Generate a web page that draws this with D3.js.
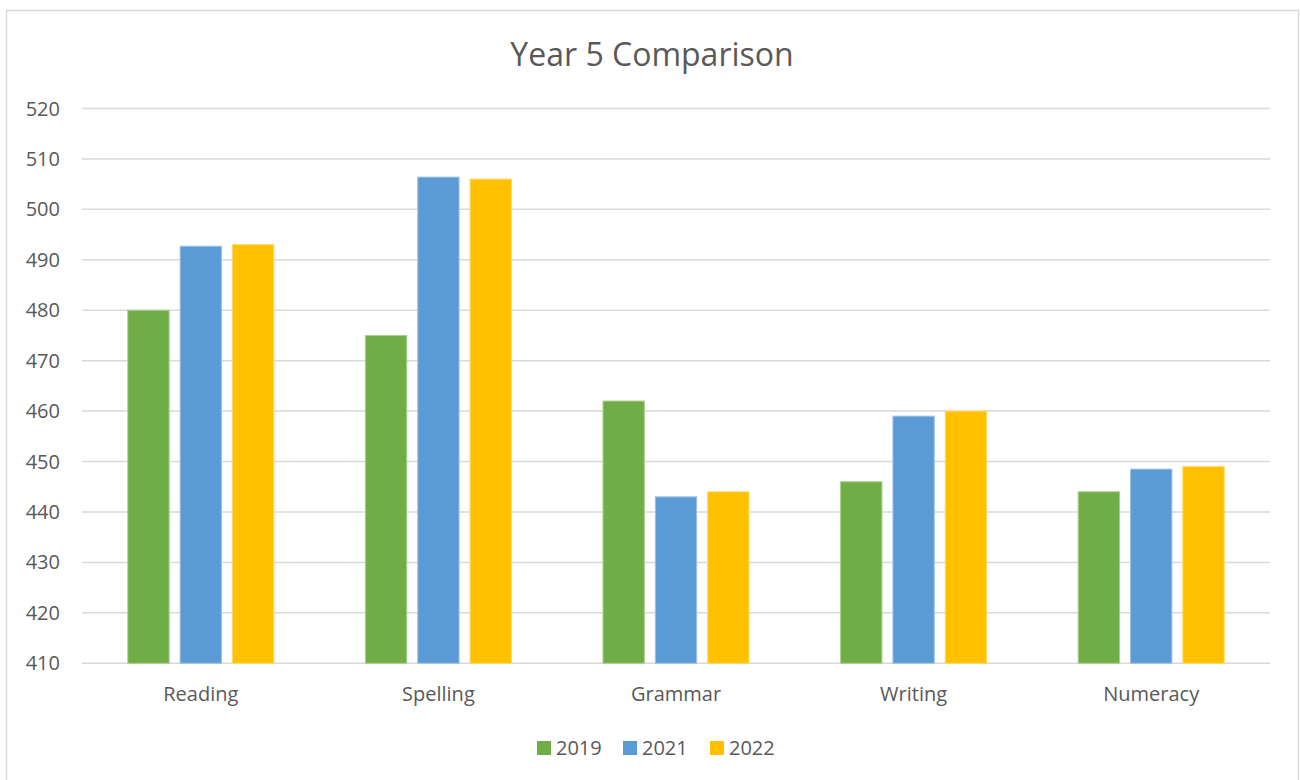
<!DOCTYPE html>
<html><head><meta charset="utf-8">
<script src="https://cdn.jsdelivr.net/npm/d3@7"></script>
<style>body{margin:0;background:#fff}svg{display:block}</style>
</head><body><svg id="c" width="1300" height="780"></svg>
<script>
const categories = ["Reading","Spelling","Grammar","Writing","Numeracy"];
const seriesNames = ["2019","2021","2022"];
const values2019 = [480, 475, 462, 446, 444];
const values2021 = [492.7, 506.4, 443, 459, 448.5];
const values2022 = [493, 506, 444, 460, 449];
const yTicks = [410,420,430,440,450,460,470,480,490,500,510,520];
const colors = ["#70AD47","#5B9BD5","#FFC000"];
const strokes = ["#A9D08E","#9DC3E6","#FFD966"];
const allValues = [values2019, values2021, values2022];

const svg = d3.select("#c");
const font = "'Open Sans', 'Liberation Sans', sans-serif";
svg.append("rect").attr("x",6.5).attr("y",10.5).attr("width",1292).attr("height",790)
  .attr("fill","#fff").attr("stroke","#d9d9d9").attr("stroke-width",1.5);

const pLeft=82, pRight=1270, pTop=108.5, pBottom=663.3;
const y = d3.scaleLinear().domain([410,520]).range([pBottom, pTop]);
const x0 = d3.scaleBand().domain(categories).range([pLeft,pRight]).paddingInner(0).paddingOuter(0);
const x1 = d3.scaleBand().domain(seriesNames).range([0, 146]).paddingInner(0.21).paddingOuter(0);

svg.append("text").attr("x",652).attr("y",66).attr("text-anchor","middle")
  .attr("font-family",font).attr("font-size",32).attr("fill","#595959").text("Year 5 Comparison");

const gy = svg.append("g");
gy.selectAll("line").data(yTicks).join("line")
  .attr("x1",pLeft).attr("x2",pRight).attr("y1",d=>y(d)).attr("y2",d=>y(d))
  .attr("stroke","#d9d9d9").attr("stroke-width",1.5);
gy.selectAll("text").data(yTicks).join("text")
  .attr("x",60).attr("y",d=>y(d)+7).attr("text-anchor","end")
  .attr("font-family",font).attr("font-size",20).attr("fill","#595959").text(d=>d);

const groups = svg.append("g").selectAll("g").data(categories).join("g")
  .attr("transform",c=>`translate(${x0(c)+(x0.bandwidth()-146)/2},0)`);
groups.selectAll("rect").data((c,i)=>seriesNames.map((s,j)=>({s,j,v:allValues[j][i]}))).join("rect")
  .attr("x",d=>x1(d.s)).attr("width",x1.bandwidth())
  .attr("y",d=>y(d.v)).attr("height",d=>pBottom-y(d.v))
  .attr("fill",d=>colors[d.j]).attr("stroke",d=>strokes[d.j]).attr("stroke-width",1);

svg.append("g").selectAll("text").data(categories).join("text")
  .attr("x",c=>x0(c)+x0.bandwidth()/2).attr("y",701).attr("text-anchor","middle")
  .attr("font-family",font).attr("font-size",20).attr("fill","#595959").text(c=>c);

const legX = [537, 623, 710];
const lg = svg.append("g").selectAll("g").data(seriesNames).join("g")
  .attr("transform",(d,i)=>`translate(${legX[i]},741)`);
lg.append("rect").attr("width",14).attr("height",14).attr("fill",(d,i)=>colors[i]);
lg.append("text").attr("x",19).attr("y",14).attr("font-family",font).attr("font-size",20)
  .attr("fill","#595959").text(d=>d);
</script></body></html>
